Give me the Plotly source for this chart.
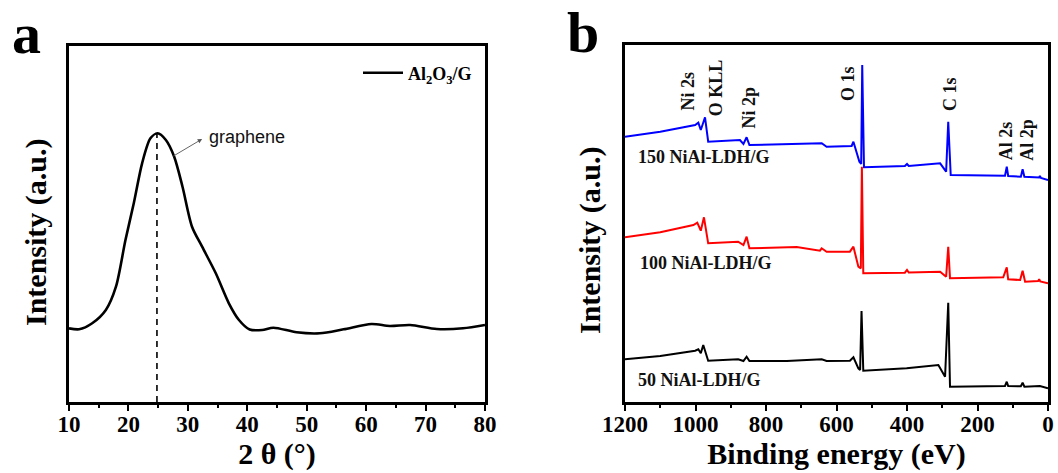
import plotly.graph_objects as go

# ---------------- Panel a: XRD of Al2O3/G ----------------
xrd_two_theta = [10, 11.7, 13.9, 16.2, 17.9, 19.5, 20.9, 22.3, 23.7, 24.9, 26.3, 27.7,
                 29.1, 30.7, 32.4, 34.7, 36.9, 38.6, 40.4, 42.5, 44.4, 48.3, 52.2,
                 56.2, 60.9, 64.0, 67.4, 71.9, 76.3, 80]
xrd_intensity = [73.7, 72.7, 78.7, 92, 115.3, 162, 198.7, 238.7, 263.7, 268.7, 262, 245.3,
                 215.3, 175.3, 155.3, 128.7, 98.7, 82, 72.5, 72, 74.3, 69.7, 68.7,
                 72.7, 78, 76, 77, 73, 73.7, 77]
graphene_peak_2theta = 24.8
graphene_peak_intensity = 268.7
xrd_name = "Al<sub>2</sub>O<sub>3</sub>/G"

# ---------------- Panel b: XPS survey spectra ----------------
be_150 = [1200, 1100, 1001, 992, 985, 973, 964, 874, 864, 855, 847, 741, 642, 628, 557, 552,
          535, 530, 527, 522, 406, 400, 395, 306, 289, 283, 276, 122, 117, 113, 77, 72, 67,
          25, 23, 20, 0]
int_150 = [265.3, 270.3, 277, 279.3, 272, 284.7, 260.3, 262, 258, 264.7, 257, 257.7, 258.7,
           255.3, 256, 260.3, 240.3, 238, 337, 234.7, 236, 238, 236, 238.7, 230.3, 280.3, 227,
           226.3, 235.3, 226, 225.3, 232.7, 225.3, 224.5, 226, 224, 222]

be_100 = [1200, 1100, 1006, 995, 985, 976, 964, 879, 864, 855, 847, 779, 713, 647, 642, 628,
          590, 562, 552, 538, 531, 528, 524, 406, 400, 395, 306, 289, 283, 278, 127, 117, 113,
          79, 72, 65, 28, 25, 22, 0]
int_100 = [164.7, 169.7, 177, 179.3, 171.3, 184.7, 158.7, 160.3, 157, 165.3, 153.7, 154.7,
           155, 151.3, 153.7, 150.3, 150.3, 150.3, 155.3, 135.3, 133.7, 235.3, 128.7, 129.3,
           132, 129.5, 130.3, 125.3, 155.3, 123.7, 124.7, 134.7, 122.7, 122, 131.3, 120.3,
           121, 122.7, 120.5, 118.7]

be_50 = [1200, 1100, 1001, 992, 985, 978, 964, 879, 864, 855, 847, 741, 642, 628, 562, 552,
         538, 533, 529, 524, 401, 311, 292, 283, 278, 122, 117, 113, 77, 72, 67, 25, 23, 0]
int_50 = [42.7, 46, 51.3, 52.7, 48.7, 57, 41.3, 42.7, 41, 45.3, 41, 41, 42.7, 41, 41.3, 44.7,
          33.7, 32, 91, 31.3, 33.7, 37, 25.3, 99.3, 15.3, 16, 20.3, 16, 15.7, 19.3, 15.3,
          15.3, 16, 13.7]

sample_names = ["150 NiAl-LDH/G", "100 NiAl-LDH/G", "50 NiAl-LDH/G"]
sample_colors = ["#0000FF", "#FF0000", "#000000"]
sample_label_pos = [(1170, 245), (1163, 139), (1170, 22)]  # (BE, intensity)

peak_labels = ["Ni 2s", "O KLL", "Ni 2p", "O 1s", "C 1s", "Al 2s", "Al 2p"]
peak_label_be = [1021, 940, 847, 566, 278, 120, 60]
peak_label_base = [289, 284, 272, 299, 289, 240, 239]

SERIF = "Liberation Serif, Times New Roman, serif"
SANS = "Liberation Sans, Arial, sans-serif"

fig = go.Figure()

fig.add_trace(go.Scatter(x=xrd_two_theta, y=xrd_intensity, mode="lines", name=xrd_name,
                         line=dict(color="black", width=2.6, shape="spline", smoothing=0.8),
                         xaxis="x", yaxis="y", showlegend=True))
fig.add_trace(go.Scatter(x=[graphene_peak_2theta, graphene_peak_2theta],
                         y=[0, graphene_peak_intensity], mode="lines",
                         line=dict(color="black", width=1.6, dash="6px,5px"),
                         xaxis="x", yaxis="y", showlegend=False, hoverinfo="skip"))

for be, inten, nm, col in zip([be_150, be_100, be_50], [int_150, int_100, int_50],
                              sample_names, sample_colors):
    fig.add_trace(go.Scatter(x=be, y=inten, mode="lines", name=nm,
                             line=dict(color=col, width=2),
                             xaxis="x2", yaxis="y2", showlegend=False))

annotations = []
# graphene arrow + text
annotations.append(dict(x=32.4, y=263, ax=27.3, ay=245, xref="x", yref="y", axref="x", ayref="y",
                        text="", showarrow=True, arrowhead=2, arrowsize=1, arrowwidth=0.9,
                        arrowcolor="#555555", standoff=0, startstandoff=0))
annotations.append(dict(x=33.2, y=265, xref="x", yref="y", text="graphene", showarrow=False,
                        xanchor="left", yanchor="middle",
                        font=dict(family=SANS, size=18, color="#111111")))

for nm, (bx, by) in zip(sample_names, sample_label_pos):
    annotations.append(dict(x=bx, y=by, xref="x2", yref="y2", text=nm, showarrow=False,
                            xanchor="left", yanchor="middle",
                            font=dict(family=SERIF, size=18, color="#111111", weight=700)))

for t, bx, by in zip(peak_labels, peak_label_be, peak_label_base):
    annotations.append(dict(x=bx, y=by, xref="x2", yref="y2", text=t, showarrow=False,
                            textangle=-90, xanchor="center", yanchor="bottom",
                            font=dict(family=SERIF, size=18, color="#111111", weight=700)))

titlefont = dict(family=SERIF, size=30, color="black", weight=700)
# y-axis titles (placed as rotated text, as in the figure)
annotations.append(dict(x=36 / 1058, y=1 - 232 / 473, xref="paper", yref="paper",
                        text="Intensity (a.u.)", showarrow=False, textangle=-90,
                        xanchor="center", yanchor="middle", font=titlefont))
annotations.append(dict(x=590 / 1058, y=1 - 240 / 473, xref="paper", yref="paper",
                        text="Intensity (a.u.)", showarrow=False, textangle=-90,
                        xanchor="center", yanchor="middle", font=titlefont))

# panel letters
annotations.append(dict(x=10 / 1058, y=1 + 1 / 473, xref="paper", yref="paper", text="a",
                        showarrow=False, xanchor="left", yanchor="top",
                        font=dict(family=SERIF, size=58, color="black", weight=700)))
annotations.append(dict(x=565 / 1058, y=1 + 2 / 473, xref="paper", yref="paper", text="b",
                        showarrow=False, xanchor="left", yanchor="top",
                        font=dict(family=SERIF, size=58, color="black", weight=700)))

axis_common = dict(showline=True, linecolor="black", linewidth=2.6, mirror=True,
                   showgrid=False, zeroline=False, automargin=False)
tickfont = dict(family=SERIF, size=23, color="black", weight=700)

fig.update_layout(
    width=1058, height=473, autosize=False,
    margin=dict(l=0, r=0, t=0, b=0, autoexpand=False),
    paper_bgcolor="white", plot_bgcolor="white",
    xaxis=dict(domain=[69 / 1058, 485 / 1058], range=[10, 80], anchor="y",
               tickmode="array", tickvals=[10, 20, 30, 40, 50, 60, 70, 80],
               ticks="outside", ticklen=6, tickwidth=2, tickcolor="black",
               minor=dict(ticks="outside", ticklen=3.5, tickwidth=2, dtick=5, tickcolor="black"),
               tickfont=tickfont, ticklabelstandoff=-6,
               title=dict(text="2 θ (°)", font=titlefont, standoff=4),
               **axis_common),
    yaxis=dict(domain=[71 / 473, 427 / 473], range=[0, 356], anchor="x",
               showticklabels=False, ticks="",
               **axis_common),
    xaxis2=dict(domain=[625 / 1058, 1048 / 1058], range=[1200, 0], anchor="y2",
                tickmode="array", tickvals=[1200, 1000, 800, 600, 400, 200, 0],
                ticks="outside", ticklen=6, tickwidth=2, tickcolor="black",
                minor=dict(ticks="outside", ticklen=3.5, tickwidth=2, dtick=100, tickcolor="black"),
                tickfont=tickfont, ticklabelstandoff=-6,
                title=dict(text="Binding energy (eV)", font=titlefont, standoff=4),
                **axis_common),
    yaxis2=dict(domain=[71 / 473, 428 / 473], range=[0, 357], anchor="x2",
                showticklabels=False, ticks="",
                **axis_common),
    legend=dict(x=358 / 1058, y=1 - 73 / 473, xanchor="left", yanchor="middle",
                bgcolor="rgba(0,0,0,0)", borderwidth=0, itemwidth=40,
                font=dict(family=SERIF, size=18, color="black", weight=700)),
    annotations=annotations,
)

fig.write_html("out.html", config={"displayModeBar": False},
               post_script="document.body.style.margin='0px';document.body.style.padding='0px';")
